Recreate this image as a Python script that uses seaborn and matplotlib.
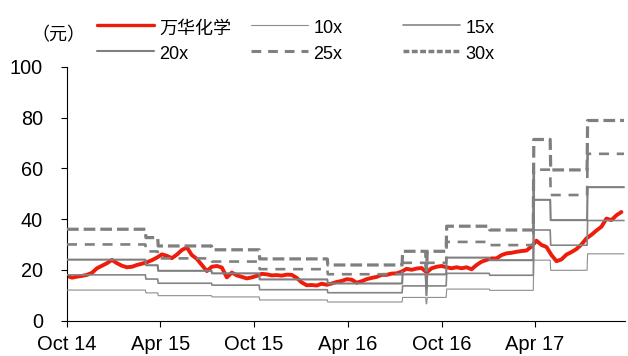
import matplotlib
matplotlib.use('Agg')
import matplotlib.pyplot as plt
from matplotlib.lines import Line2D
import numpy as np
import pandas as pd
import seaborn as sns

# ---------------- data ----------------
price_label = '万华化学'
price_start = '2014-10-01'
price_end = '2017-09-17'
price_values = [
    17.6, 16.9, 17.3, 17.6, 18.0, 18.8, 20.6, 21.6, 22.6, 23.9,
    22.6, 21.6, 21.0, 21.2, 21.9, 22.4, 23.0, 23.8, 24.8, 26.1,
    25.5, 24.6, 26.0, 27.8, 28.8, 25.8, 24.3, 21.9, 19.5, 21.2,
    21.5, 20.9, 17.0, 18.9, 17.8, 17.2, 16.6, 17.0, 17.6, 18.4,
    18.2, 17.8, 17.9, 17.7, 18.1, 18.0, 16.8, 15.0, 13.9, 14.0,
    13.8, 14.5, 14.1, 14.6, 15.2, 15.6, 16.3, 16.1, 14.9, 15.5,
    16.3, 16.8, 17.2, 18.0, 18.0, 18.5, 18.6, 19.3, 20.4, 20.0,
    20.5, 20.7, 19.0, 20.6, 21.2, 21.5, 21.0, 20.6, 21.0, 20.6,
    21.0, 20.2, 21.9, 23.2, 23.9, 24.5, 24.5, 25.8, 26.5, 26.7,
    27.1, 27.4, 27.6, 29.2, 31.5, 29.8, 29.0, 25.8, 23.4, 24.1,
    26.0, 27.0, 28.2, 30.0, 32.4, 33.8, 35.5, 37.0, 40.2, 39.6,
    41.5, 42.8,
]

eps_change_dates = ['2014-10-01', '2015-03-04', '2015-03-28', '2015-07-11',
                    '2015-10-12', '2016-02-22', '2016-07-17', '2016-09-01',
                    '2016-09-03', '2016-10-11', '2017-01-03', '2017-03-30',
                    '2017-05-02', '2017-07-13']
eps_values = [1.20, 1.09, 0.98, 0.93, 0.81, 0.73, 0.91, 0.66, 0.91,
              1.24, 1.19, 2.38, 1.98, 2.63]
band_end = '2017-09-22'
multiples = [10, 15, 20, 25, 30]
band_labels = ['10x', '15x', '20x', '25x', '30x']

xtick_dates = ['2014-10-01', '2015-04-01', '2015-10-01', '2016-04-01',
               '2016-10-01', '2017-04-01']
xtick_labels = ['Oct 14', 'Apr 15', 'Oct 15', 'Apr 16', 'Oct 16', 'Apr 17']
yticks = [0, 20, 40, 60, 80, 100]
unit_label = '（元）'

# ---------------- style ----------------
RED = '#EE1C0A'
band_styles = {
    '10x': dict(color='#8E8E8E', linewidth=0.8, linestyle='-'),
    '15x': dict(color='#858585', linewidth=1.2, linestyle='-'),
    '20x': dict(color='#7F7F7F', linewidth=1.5, linestyle='-'),
    '25x': dict(color='#808080', linewidth=1.9, linestyle=(0, (7.2, 5.6))),
    '30x': dict(color='#7F7F7F', linewidth=2.3, linestyle=(0, (8.4, 3.6))),
}
legend_styles = {
    '10x': dict(color='#8E8E8E', linewidth=0.8, linestyle='-'),
    '15x': dict(color='#858585', linewidth=1.2, linestyle='-'),
    '20x': dict(color='#7F7F7F', linewidth=1.5, linestyle='-'),
    '25x': dict(color='#808080', linewidth=2.2, linestyle=(0, (7.0, 5.0))),
    '30x': dict(color='#7F7F7F', linewidth=2.5, linestyle=(0, (4.2, 1.8))),
}

sns.set_style('ticks')
plt.rcParams['font.family'] = ['Liberation Sans', 'Noto Sans CJK SC']
plt.rcParams['lines.scale_dashes'] = False
plt.rcParams['text.color'] = 'black'
plt.rcParams['xtick.color'] = 'black'
plt.rcParams['ytick.color'] = 'black'
plt.rcParams['axes.edgecolor'] = 'black'

W, H = 628, 356
fig = plt.figure(figsize=(W / 100, H / 100), dpi=100)
ax = fig.add_axes([67 / W, 1 - 320.5 / H, (625 - 67) / W, (320.5 - 67) / H])

price_dates = pd.date_range(price_start, price_end, periods=len(price_values))
sns.lineplot(x=price_dates, y=price_values, ax=ax, color=RED, linewidth=2.8,
             estimator=None, zorder=2)

band_dates = pd.date_range(eps_change_dates[0], band_end, freq='D')
change = pd.to_datetime(eps_change_dates).values
idx = np.searchsorted(change, band_dates.values, side='right') - 1
eps = np.asarray(eps_values)[idx]
for m, lab in zip(multiples, band_labels):
    st = band_styles[lab]
    sns.lineplot(x=band_dates, y=eps * m, ax=ax, estimator=None, zorder=3,
                 color=st['color'], linewidth=st['linewidth'],
                 linestyle=st['linestyle'])

ax.set_xlim(pd.Timestamp('2014-10-01'), pd.Timestamp('2017-09-24'))
ax.set_ylim(0, 100)
ax.set_yticks(yticks)
ax.set_xticks(pd.to_datetime(xtick_dates))
ax.set_xticklabels(xtick_labels)
ax.tick_params(axis='y', direction='out', length=4.3, width=0.8, pad=13,
               labelsize=14.3)
ax.tick_params(axis='x', direction='out', length=4.3, width=0.8, pad=6,
               labelsize=14.5)
sns.despine(ax=ax)
for s in ['left', 'bottom']:
    ax.spines[s].set_linewidth(0.8)
    ax.spines[s].set_color('black')
ax.set_xlabel('')
ax.set_ylabel('')

fig.text(58 / W, 1 - 35 / H, unit_label, ha='center', va='center',
         fontsize=13, family=['Noto Sans CJK SC'])

# legend: three columns of two rows
h = {price_label: Line2D([], [], color=RED, linewidth=2.4)}
for lab in band_labels:
    h[lab] = Line2D([], [], **legend_styles[lab])
columns = [[price_label, '20x'], ['10x', '25x'], ['15x', '30x']]
col_x = [96.7, 250.7, 403.0]
for col, x0 in zip(columns, col_x):
    fig.legend(handles=[h[c] for c in col], labels=col, loc='upper left',
               bbox_to_anchor=(x0 / W, 1 - 16.5 / H), frameon=False,
               fontsize=13, handlelength=3.16, handleheight=1.5,
               handletextpad=0.3, labelspacing=0.22, borderpad=0,
               borderaxespad=0)

fig.savefig('out.png', dpi=100)
